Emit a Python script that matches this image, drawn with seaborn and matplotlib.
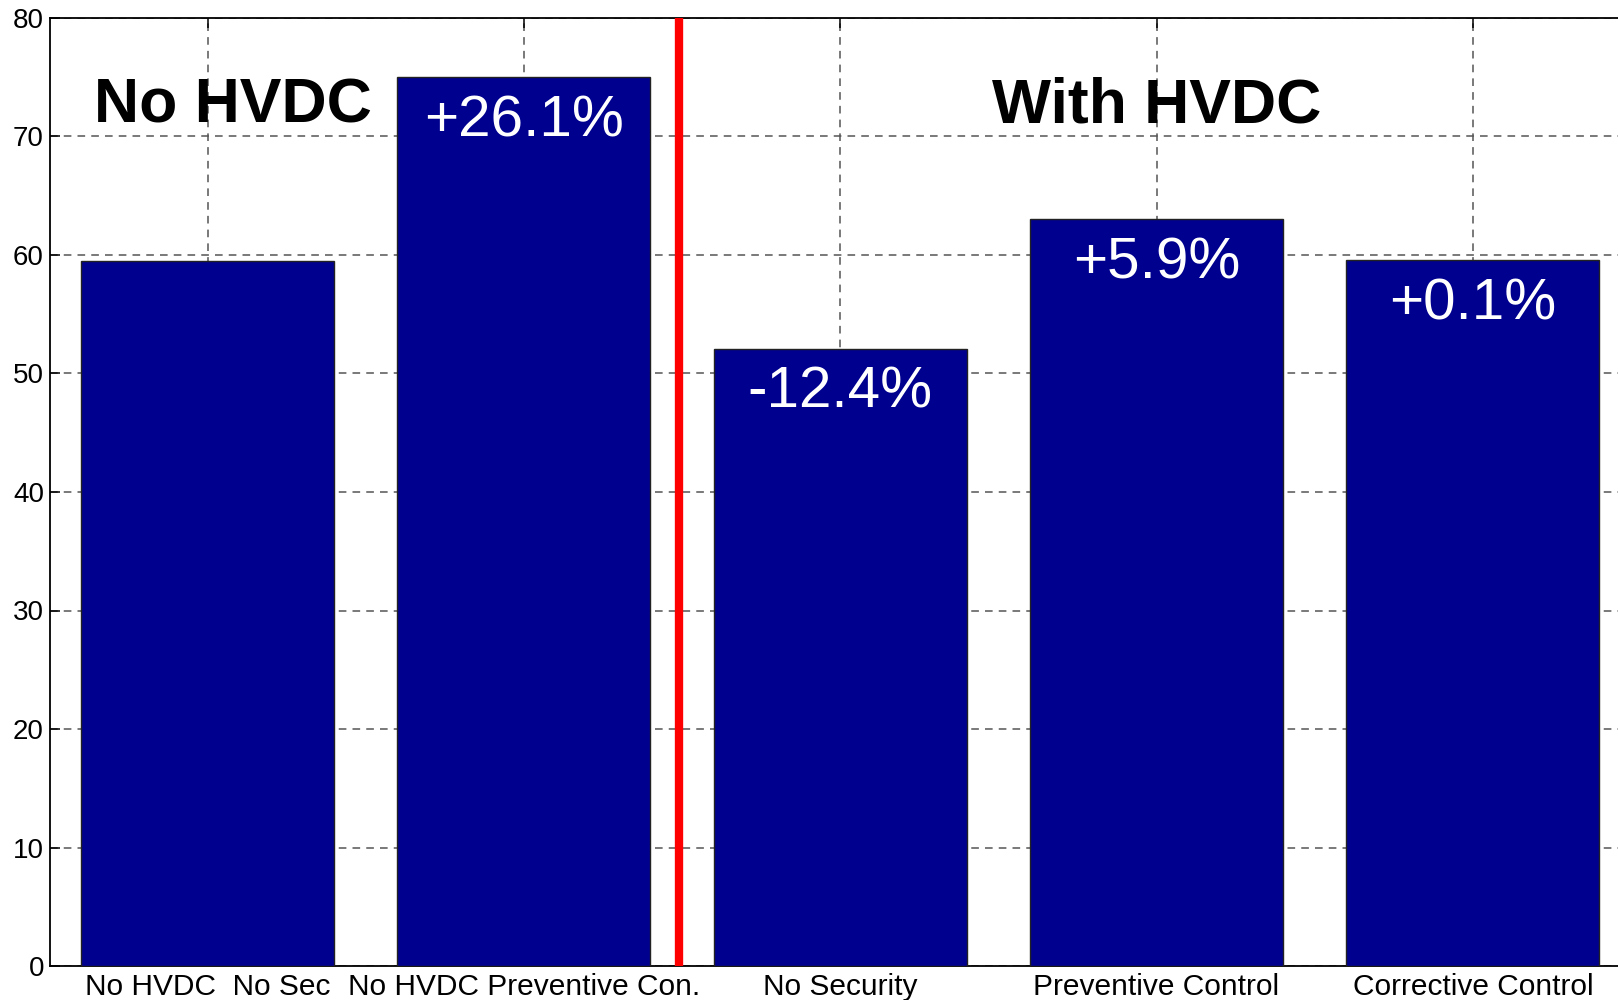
import matplotlib
matplotlib.use("Agg")
import matplotlib.pyplot as plt
import seaborn as sns
import pandas as pd

# Scenario results
categories = ["No HVDC  No Sec", "No HVDC Preventive Con.", "No Security",
              "Preventive Control", "Corrective Control"]
values = [59.5, 75.0, 52.1, 63.0, 59.56]
change_labels = ["", "+26.1%", "-12.4%", "+5.9%", "+0.1%"]
group_titles = ["No HVDC", "With HVDC"]
y_ticks = [0, 10, 20, 30, 40, 50, 60, 70, 80]

sns.set_theme(style="white")
plt.rcParams["font.family"] = ["Liberation Sans", "DejaVu Sans"]

df = pd.DataFrame({"scenario": categories, "value": values})

fig = plt.figure(figsize=(16.18, 10), dpi=100)
ax = fig.add_axes([49.5 / 1618, 0.034, 1581.5 / 1618, 0.948])

sns.barplot(data=df, x="scenario", y="value", color="#00008F", saturation=1,
            width=0.8, edgecolor="#222222", linewidth=1.0, ax=ax, zorder=3)

ax.set_xlim(-0.5, 4.5)
ax.set_ylim(0, 80)
ax.set_yticks(y_ticks)
ax.set_xlabel("")
ax.set_ylabel("")

ax.grid(True, which="major", axis="both", color="#555555", linestyle=(0, (5, 4)),
        linewidth=1.1, zorder=0)
ax.set_axisbelow(True)

for s in ax.spines.values():
    s.set_color("black")
    s.set_linewidth(1.3)

ax.tick_params(axis="both", direction="in", length=7, width=1.1, color="black",
               labelsize=20, labelcolor="black", top=True, right=True,
               bottom=True, left=True)
ax.tick_params(axis="x", pad=5, labelsize=21.5)
ax.tick_params(axis="y", pad=4)

# Divider between the two groups
ax.axvline(1.49, color="#FF0000", linewidth=6, zorder=4)

# Percentage change labels inside the bars
for i, (v, lab) in enumerate(zip(values, change_labels)):
    if lab:
        ax.text(i, v - 5.0, lab, color="white", fontsize=42, ha="center",
                va="baseline", zorder=5)

# Group titles
ax.text(0.08, 71.2, group_titles[0], fontsize=45, fontweight="bold",
        ha="center", va="baseline", color="black", zorder=5)
ax.text(3.0, 71.2, group_titles[1], fontsize=45, fontweight="bold",
        ha="center", va="baseline", color="black", zorder=5)

fig.savefig("out.png", dpi=100, facecolor="white")
